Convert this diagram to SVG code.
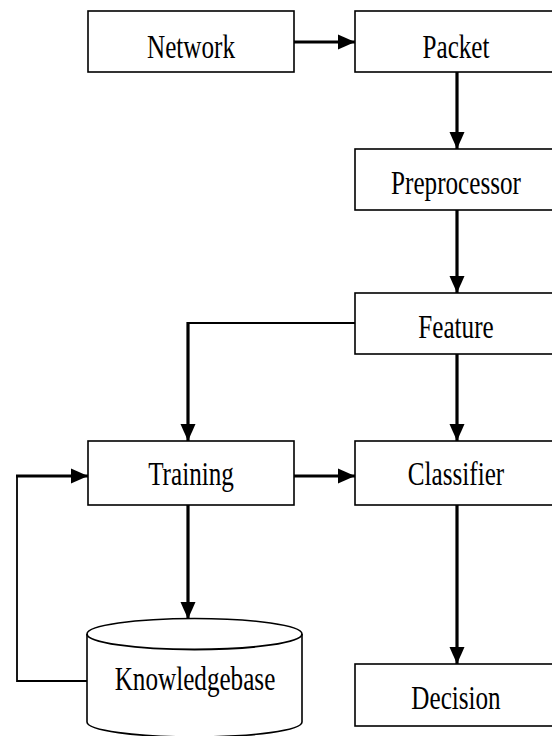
<svg xmlns="http://www.w3.org/2000/svg" width="552" height="736" viewBox="0 0 552 736">
<style>
.box{fill:#fff;stroke:#000;stroke-width:1.6}
.lbl{font-family:"Liberation Serif",serif;font-size:34px;fill:#000;text-anchor:middle}
.arr{fill:none;stroke:#000;stroke-width:3.2}
.thin{fill:none;stroke:#000;stroke-width:1.8}
</style>
<defs>
<marker id="ah" markerWidth="18" markerHeight="18" viewBox="0 0 17 18" refX="17" refY="9" orient="auto" markerUnits="userSpaceOnUse">
<path d="M0,1.5 L17,9 L0,16.5 Z" fill="#000"/>
</marker>
</defs>
<rect width="552" height="736" fill="#fff"/>
<g id="connectors">
<line class="arr" x1="294" y1="42" x2="355" y2="42" marker-end="url(#ah)"/>
<line class="arr" x1="457" y1="72" x2="457" y2="149" marker-end="url(#ah)"/>
<line class="arr" x1="457" y1="210" x2="457" y2="293" marker-end="url(#ah)"/>
<polyline class="thin" points="355,323 188,323"/>
<line class="arr" x1="188" y1="322" x2="188" y2="441" marker-end="url(#ah)"/>
<line class="arr" x1="457" y1="354" x2="457" y2="441" marker-end="url(#ah)"/>
<line class="arr" x1="294" y1="476" x2="355" y2="476" marker-end="url(#ah)"/>
<line class="arr" x1="188" y1="505" x2="188" y2="619" marker-end="url(#ah)"/>
<polyline class="thin" points="87,681 17,681 17,476"/>
<line class="arr" x1="16" y1="476" x2="88" y2="476" marker-end="url(#ah)"/>
<line class="arr" x1="457" y1="505" x2="457" y2="664" marker-end="url(#ah)"/>
</g>
<g id="network"><rect class="box" x="88" y="11" width="206" height="61"/><text class="lbl" transform="translate(191,58) scale(0.74,1)">Network</text></g>
<g id="packet"><rect class="box" x="355" y="11" width="210" height="61"/><text class="lbl" transform="translate(456,58) scale(0.74,1)">Packet</text></g>
<g id="preprocessor"><rect class="box" x="355" y="149" width="210" height="61"/><text class="lbl" transform="translate(456,194) scale(0.74,1)">Preprocessor</text></g>
<g id="feature"><rect class="box" x="355" y="293" width="210" height="61"/><text class="lbl" transform="translate(456,338) scale(0.74,1)">Feature</text></g>
<g id="training"><rect class="box" x="88" y="441" width="206" height="64"/><text class="lbl" transform="translate(191,485) scale(0.74,1)">Training</text></g>
<g id="classifier"><rect class="box" x="355" y="441" width="210" height="64"/><text class="lbl" transform="translate(456,485) scale(0.74,1)">Classifier</text></g>
<g id="knowledgebase">
<path class="box" d="M87,634 L87,722 A107.5,15 0 0 0 302,722 L302,634 A107.5,15.5 0 0 0 87,634 Z"/>
<path class="thin" d="M87,634 A107.5,15.5 0 0 0 302,634"/>
<text class="lbl" transform="translate(195,690) scale(0.74,1)">Knowledgebase</text>
</g>
<g id="decision"><rect class="box" x="355" y="664" width="210" height="62"/><text class="lbl" transform="translate(456,709) scale(0.74,1)">Decision</text></g>
</svg>
